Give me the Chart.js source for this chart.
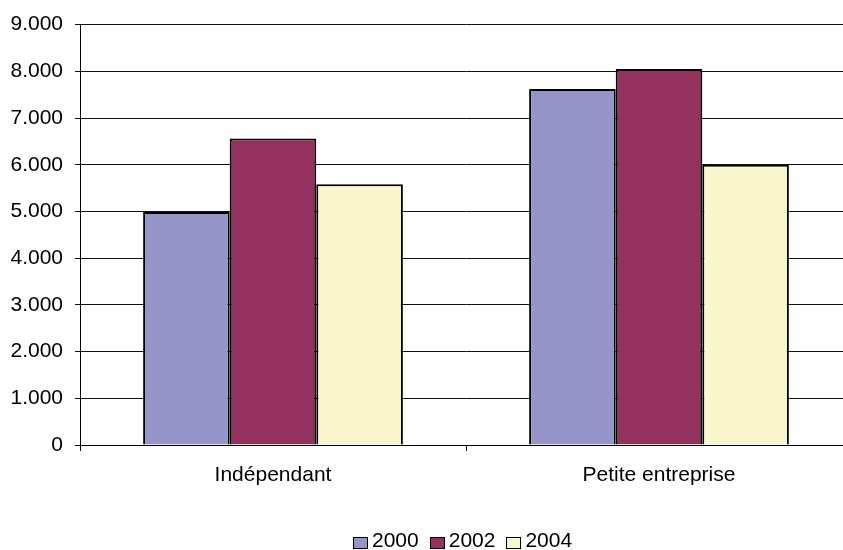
<!DOCTYPE html>
<html lang="fr">
<head>
    <meta charset="UTF-8">
    <title>Indépendant / Petite entreprise</title>
    <script src="https://cdn.jsdelivr.net/npm/chart.js"></script>
    <style>
        html, body {
            margin: 0;
            padding: 0;
            background: #fff;
            overflow: hidden;
            font-family: 'Liberation Sans', Arial, sans-serif;
        }
        #wrap {
            position: relative;
            width: 852px;
            height: 550px;
        }
        #legend {
            position: absolute;
            left: 353px;
            top: 528px;
            display: flex;
            align-items: center;
            font-size: 21px;
            color: #000;
            white-space: nowrap;
        }
        #legend span.box {
            display: inline-block;
            width: 13px;
            height: 10px;
            border: 1px solid #000;
            margin-right: 4px;
            margin-top: 5px;
        }
        #legend span.lbl {
            margin-right: 11px;
        }
    </style>
</head>
<body>
    <div id="wrap">
        <canvas id="chart"></canvas>
        <div id="legend"></div>
    </div>

    <script>
        const categories = ['Indépendant', 'Petite entreprise'];
        const seriesNames = ['2000', '2002', '2004'];
        const values2000 = [4990, 7620];
        const values2002 = [6560, 8050];
        const values2004 = [5580, 6000];
        const yTicks = [0, 1000, 2000, 3000, 4000, 5000, 6000, 7000, 8000, 9000];

        const colors = ['#9595C8', '#93325F', '#FAF7CD'];
        const seriesValues = [values2000, values2002, values2004];

        function formatThousands(v) {
            if (v === 0) return '0';
            return String(v).replace(/\B(?=(\d{3})+(?!\d))/g, '.');
        }

        const font = { family: "'Liberation Sans', Arial, sans-serif", size: 21 };

        const chart = new Chart(document.getElementById('chart'), {
            type: 'bar',
            data: {
                labels: categories,
                datasets: seriesNames.map((name, i) => ({
                    label: name,
                    data: seriesValues[i],
                    backgroundColor: colors[i],
                    borderColor: '#000',
                    borderWidth: 2,
                    barPercentage: 1,
                    categoryPercentage: 0.673
                }))
            },
            options: {
                responsive: true,
                maintainAspectRatio: false,
                animation: false,
                layout: { padding: { top: 24, left: 0, right: 0, bottom: 0 } },
                plugins: {
                    legend: { display: false },
                    tooltip: { enabled: false }
                },
                scales: {
                    x: {
                        grid: {
                            offset: true,
                            drawOnChartArea: false,
                            tickLength: 6,
                            color: '#000'
                        },
                        border: { color: '#000', width: 1 },
                        ticks: { color: '#000', font: font, padding: 12, maxRotation: 0 },
                        afterFit: s => { s.height = 105; }
                    },
                    y: {
                        min: 0,
                        max: 9000,
                        afterBuildTicks: s => { s.ticks = yTicks.map(v => ({ value: v })); },
                        grid: { color: '#111', tickLength: 5, lineWidth: 1 },
                        border: { color: '#000', width: 1 },
                        ticks: {
                            color: '#000',
                            font: font,
                            padding: 12,
                            callback: v => formatThousands(v)
                        },
                        afterFit: s => { s.width = 80; }
                    }
                }
            }
        });

        const legend = document.getElementById('legend');
        seriesNames.forEach((name, i) => {
            const box = document.createElement('span');
            box.className = 'box';
            box.style.background = colors[i];
            const lbl = document.createElement('span');
            lbl.className = 'lbl';
            lbl.textContent = name;
            legend.appendChild(box);
            legend.appendChild(lbl);
        });
    </script>
</body>
</html>
